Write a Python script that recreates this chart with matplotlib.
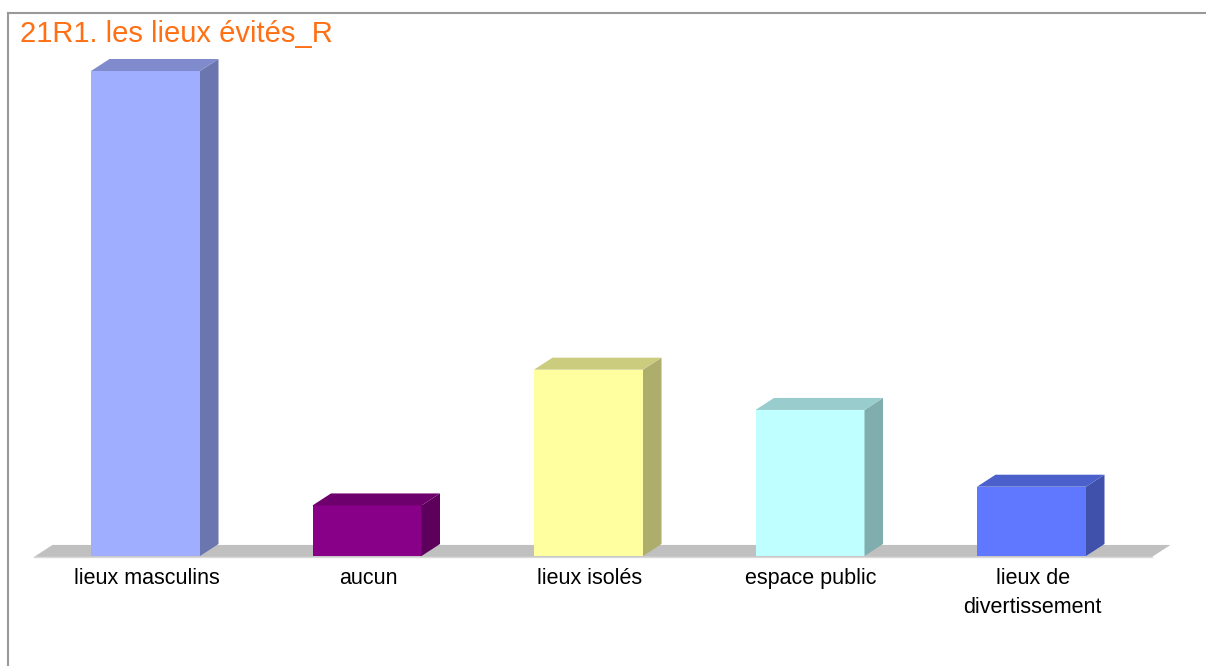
import numpy as np
import matplotlib
matplotlib.use("Agg")
import matplotlib.pyplot as plt
from matplotlib.patches import Polygon

# values (share of answers, %)
categories = ["lieux masculins", "aucun", "lieux isolés", "espace public",
              "lieux de\ndivertissement"]
values = [51.8, 5.4, 19.9, 15.6, 7.4]

front_colors = ["#a0aeff", "#880088", "#ffff9f", "#bfffff", "#6078ff"]
side_colors = ["#6a76ad", "#5c005c", "#adad6c", "#80adad", "#3f51ab"]
top_colors = ["#7f8bcc", "#6d006d", "#cccc7f", "#99cccc", "#4c60cc"]

title = "21R1. les lieux évités_R"

W, H = 1206, 666
fig = plt.figure(figsize=(W / 100, H / 100), dpi=100)
ax = fig.add_axes([0, 0, 1, 1])

# layout in pixels -> data units
x0_px, step_px = 145.5, 221.5
base_px, bar_top_px = 556, 71
px_per_unit = (base_px - bar_top_px) / max(values)
ax.set_xlim(-x0_px / step_px, (W - x0_px) / step_px)
ax.set_ylim(-(H - base_px) / px_per_unit, base_px / px_per_unit)
ax.axis("off")

width = 109 / step_px
dx = 18.5 / step_px
dy = 12 / px_per_unit
x = np.arange(len(values))

# gray floor
fl_left = (34 - x0_px) / step_px
fl_right = (1152 - x0_px) / step_px
floor = Polygon([(fl_left, -0.1), (fl_right, -0.1), (fl_right + dx, dy - 0.1),
                 (fl_left + dx, dy - 0.1)], closed=True, facecolor="#c0c0c0",
                edgecolor="none", zorder=1)
ax.add_patch(floor)
ax.plot([fl_left, fl_right], [-0.12, -0.12], color="#d9d9d9", lw=1, zorder=1)

for i, v in enumerate(values):
    l, r = x[i] - width / 2, x[i] + width / 2
    ax.bar(x[i], v, width=width, color=front_colors[i], zorder=3)
    side = Polygon([(r, 0), (r + dx, dy), (r + dx, v + dy), (r, v)],
                   closed=True, facecolor=side_colors[i], edgecolor="none", zorder=3)
    top = Polygon([(l, v), (r, v), (r + dx, v + dy), (l + dx, v + dy)],
                  closed=True, facecolor=top_colors[i], edgecolor="none", zorder=3)
    ax.add_patch(side)
    ax.add_patch(top)
    ax.text(x[i] + 0.005, -1.3, categories[i], ha="center", va="top", fontsize=15.5,
            family="Liberation Sans", linespacing=1.5, color="black")

# frame lines on top and left
fig.add_artist(plt.Line2D([8 / W, 1], [1 - 13 / H, 1 - 13 / H],
                          color="#999999", lw=1.5))
fig.add_artist(plt.Line2D([8 / W, 8 / W], [0, 1 - 13 / H], color="#999999", lw=1.5))

fig.text(20 / W, 1 - 34 / H, title, ha="left", va="center", fontsize=21,
         family="Liberation Sans", color="#ff7014")

fig.savefig("out.png", dpi=100)
